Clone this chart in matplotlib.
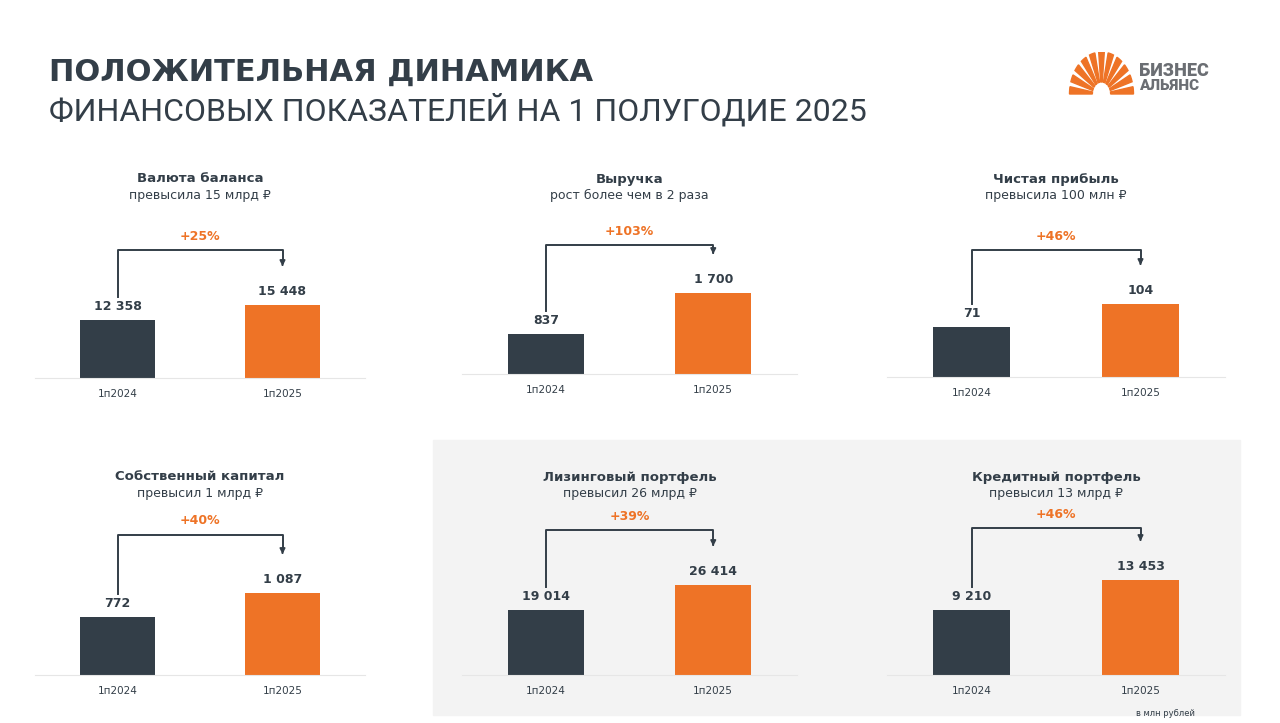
import matplotlib
matplotlib.use("Agg")
import matplotlib.pyplot as plt
from matplotlib.patches import Rectangle, Wedge
import numpy as np

plt.rcParams['font.family'] = ['DejaVu Sans']

titles = ["Валюта баланса", "Выручка", "Чистая прибыль",
          "Собственный капитал", "Лизинговый портфель", "Кредитный портфель"]
subtitles = ["превысила 15 млрд ₽", "рост более чем в 2 раза", "превысила 100 млн ₽",
             "превысил 1 млрд ₽", "превысил 26 млрд ₽", "превысил 13 млрд ₽"]
categories = ["1п2024", "1п2025"]
v2024 = [12358, 837, 71, 772, 19014, 9210]
v2025 = [15448, 1700, 104, 1087, 26414, 13453]
growth = ["+25%", "+103%", "+46%", "+40%", "+39%", "+46%"]

DARK = "#333e48"
ORANGE = "#ee7326"
W, H = 1280, 723
fig = plt.figure(figsize=(12.8, 7.23), dpi=100)

def fx(x): return x / W
def fy(y): return 1 - y / H

bg = fig.add_axes([0, 0, 1, 1], zorder=-5)
bg.set_xlim(0, W); bg.set_ylim(H, 0); bg.axis("off")
bg.add_patch(Rectangle((433, 440), 807, 275, color="#f3f3f3"))

fig.text(fx(49), fy(72), "ПОЛОЖИТЕЛЬНАЯ ДИНАМИКА", fontsize=22, fontweight="bold",
         color=DARK, va="center")
fig.text(fx(49), fy(110), "ФИНАНСОВЫХ ПОКАЗАТЕЛЕЙ НА 1 ПОЛУГОДИЕ 2025", fontsize=23,
         color=DARK, va="center", family=["Roboto", "DejaVu Sans"])

# logo
lax = fig.add_axes([fx(1068), fy(96), fx(1135) - fx(1068), (96 - 52) / H])
lax.set_xlim(-1.1, 1.1); lax.set_ylim(-0.05, 1.05); lax.axis("off")
for a in np.linspace(5, 175, 11):
    lax.add_patch(Wedge((0, 0), 1.05, a - 5, a + 5, width=0.75, color=ORANGE))
fig.text(fx(1139), fy(71), "БИЗНЕС", fontsize=13, fontweight="black", color="#6b6e73", va="center",
         family=["Roboto", "DejaVu Sans"])
fig.text(fx(1139), fy(86), "АЛЬЯНС", fontsize=11, fontweight="black", color="#6b6e73", va="center",
         family=["Roboto", "DejaVu Sans"])

panels = [(35, 365, 378, 73, 128, 179), (462, 797, 374, 81, 129, 179), (887, 1225, 377, 73, 127, 179),
          (35, 365, 675, 82, 140, 477), (462, 797, 675, 90, 145, 477), (887, 1225, 675, 95, 147, 477)]
AXH = 170
for i, (l, r, b, hmax, btop, ty) in enumerate(panels):
    ax = fig.add_axes([fx(l), fy(b), fx(r) - fx(l), AXH / H])
    ax.patch.set_alpha(0)
    vals = [v2024[i], v2025[i]]
    ymax = max(vals) * AXH / hmax
    ax.set_xlim(-0.5, 1.5); ax.set_ylim(0, ymax)
    ax.bar([0, 1], vals, width=0.455, color=[DARK, ORANGE])
    for s in ["top", "right", "left"]:
        ax.spines[s].set_visible(False)
    ax.spines["bottom"].set_color("#e6e6e6")
    ax.set_yticks([])
    ax.set_xticks([0, 1], categories)
    ax.tick_params(axis="x", length=0, pad=8, labelsize=7.5, labelcolor=DARK)
    for x, v in zip([0, 1], vals):
        ax.text(x, v + ymax * 7 / AXH, f"{v:,}".replace(",", " "), ha="center", va="bottom",
                fontsize=9, fontweight="bold", color=DARK)
    px = ymax / AXH
    top = btop * px
    y0 = vals[0] + 23 * px
    y1 = vals[1] + 36 * px
    ax.plot([0, 0, 1, 1], [y0, top, top, y1 + 6 * px], color=DARK, lw=1.4, clip_on=False)
    ax.annotate("", xy=(1, y1), xytext=(1, y1 + 7 * px),
                arrowprops=dict(arrowstyle="-|>", color=DARK, lw=1.2, mutation_scale=8), annotation_clip=False)
    ax.text(0.5, top + 14 * px, growth[i], ha="center", va="center", fontsize=9,
            fontweight="bold", color=ORANGE, clip_on=False)
    cx = (l + r) / 2
    fig.text(fx(cx), fy(ty), titles[i], ha="center", va="center", fontsize=9.5, fontweight="bold", color=DARK)
    fig.text(fx(cx), fy(ty + 16), subtitles[i], ha="center", va="center", fontsize=9, color=DARK)

fig.text(fx(1165), fy(714), "в млн рублей", ha="center", va="center", fontsize=6, color=DARK)
fig.savefig("out.png", dpi=100)
